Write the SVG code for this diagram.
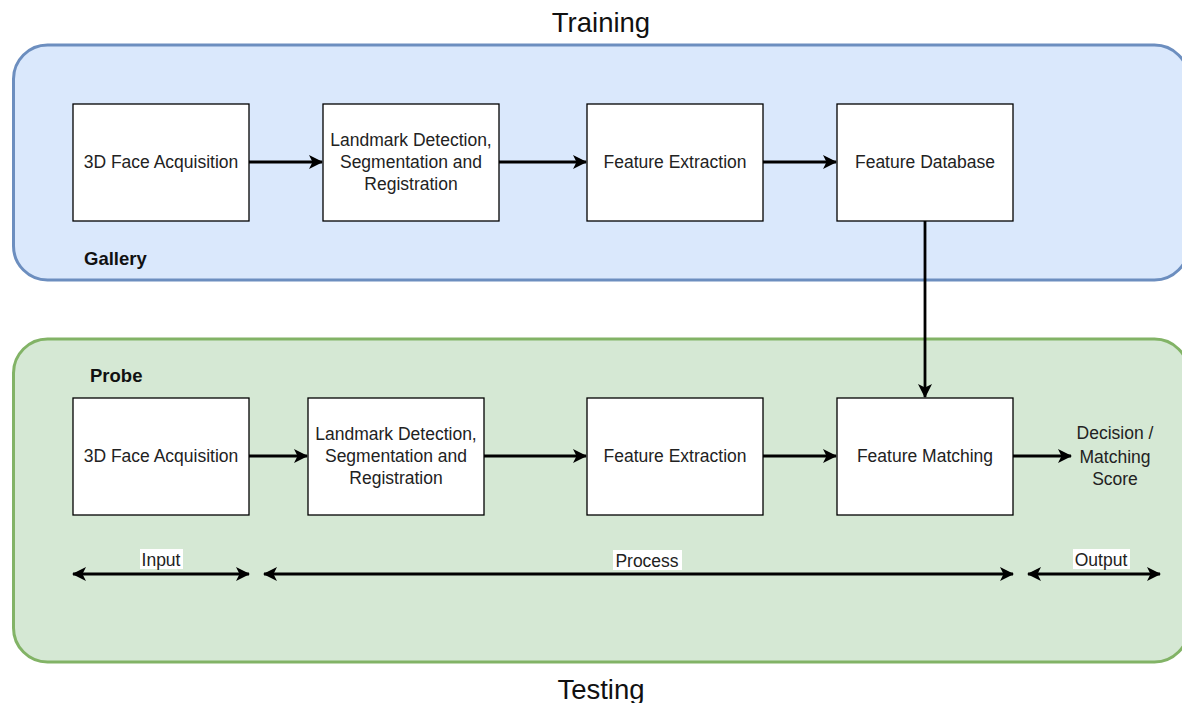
<svg xmlns="http://www.w3.org/2000/svg" width="1182" height="703" viewBox="0 0 1182 703">
  <defs>
    <marker id="arrow" viewBox="0 0 14 14" refX="13" refY="7" markerWidth="14" markerHeight="14" markerUnits="userSpaceOnUse" orient="auto-start-reverse">
      <path d="M0,0 L14,7 L0,14 L3.5,7 Z" fill="#000"/>
    </marker>
    <style>
      .box { fill: #ffffff; stroke: #000000; stroke-width: 1.3; }
      .lbl { font-family: "Liberation Sans", Arial, sans-serif; font-size: 17.5px; fill: #222; text-anchor: middle; }
      .bold { font-family: "Liberation Sans", Arial, sans-serif; font-size: 18.5px; font-weight: bold; fill: #111; }
      .title { font-family: "Liberation Sans", Arial, sans-serif; font-size: 27.5px; fill: #111; text-anchor: middle; }
      .edge { stroke: #000; stroke-width: 2.8; fill: none; }
      .tag { fill: #ffffff; }
    </style>
  </defs>
  <rect width="1182" height="703" fill="#ffffff"/>

  <!-- containers -->
  <g id="training">
    <rect x="13.5" y="45" width="1175" height="235" rx="34" fill="#dae8fc" stroke="#6c8ebf" stroke-width="3"/>
    <text class="title" x="601" y="32">Training</text>
    <text class="bold" x="84" y="265">Gallery</text>
  </g>
  <g id="testing">
    <rect x="13.5" y="339" width="1175" height="323" rx="34" fill="#d5e8d4" stroke="#82b366" stroke-width="3"/>
    <text class="title" x="601" y="699">Testing</text>
    <text class="bold" x="90" y="382">Probe</text>
  </g>

  <!-- gallery row -->
  <g id="g-acq">
    <rect class="box" x="73" y="104" width="176" height="117"/>
    <text class="lbl" x="161" y="168">3D Face Acquisition</text>
  </g>
  <g id="g-landmark">
    <rect class="box" x="323" y="104" width="176" height="117"/>
    <text class="lbl" x="411" y="146">Landmark Detection,</text>
    <text class="lbl" x="411" y="168">Segmentation and</text>
    <text class="lbl" x="411" y="190">Registration</text>
  </g>
  <g id="g-feat">
    <rect class="box" x="587" y="104" width="176" height="117"/>
    <text class="lbl" x="675" y="168">Feature Extraction</text>
  </g>
  <g id="g-db">
    <rect class="box" x="837" y="104" width="176" height="117"/>
    <text class="lbl" x="925" y="168">Feature Database</text>
  </g>

  <!-- probe row -->
  <g id="p-acq">
    <rect class="box" x="73" y="398" width="176" height="117"/>
    <text class="lbl" x="161" y="462">3D Face Acquisition</text>
  </g>
  <g id="p-landmark">
    <rect class="box" x="308" y="398" width="176" height="117"/>
    <text class="lbl" x="396" y="440">Landmark Detection,</text>
    <text class="lbl" x="396" y="462">Segmentation and</text>
    <text class="lbl" x="396" y="484">Registration</text>
  </g>
  <g id="p-feat">
    <rect class="box" x="587" y="398" width="176" height="117"/>
    <text class="lbl" x="675" y="462">Feature Extraction</text>
  </g>
  <g id="p-match">
    <rect class="box" x="837" y="398" width="176" height="117"/>
    <text class="lbl" x="925" y="462">Feature Matching</text>
  </g>
  <g id="decision">
    <text class="lbl" x="1115" y="439">Decision /</text>
    <text class="lbl" x="1115" y="463">Matching</text>
    <text class="lbl" x="1115" y="485">Score</text>
  </g>

  <!-- connectors -->
  <g id="connectors">
    <line class="edge" x1="249" y1="162" x2="322" y2="162" marker-end="url(#arrow)"/>
    <line class="edge" x1="499" y1="162" x2="586" y2="162" marker-end="url(#arrow)"/>
    <line class="edge" x1="763" y1="162" x2="836" y2="162" marker-end="url(#arrow)"/>
    <line class="edge" x1="925" y1="221" x2="925" y2="397" marker-end="url(#arrow)"/>
    <line class="edge" x1="249" y1="456" x2="307" y2="456" marker-end="url(#arrow)"/>
    <line class="edge" x1="484" y1="456" x2="586" y2="456" marker-end="url(#arrow)"/>
    <line class="edge" x1="763" y1="456" x2="836" y2="456" marker-end="url(#arrow)"/>
    <line class="edge" x1="1013" y1="456" x2="1071" y2="456" marker-end="url(#arrow)"/>

    <line class="edge" x1="73" y1="574" x2="249" y2="574" marker-start="url(#arrow)" marker-end="url(#arrow)"/>
    <line class="edge" x1="264" y1="574" x2="1013" y2="574" marker-start="url(#arrow)" marker-end="url(#arrow)"/>
    <line class="edge" x1="1028" y1="574" x2="1160" y2="574" marker-start="url(#arrow)" marker-end="url(#arrow)"/>

    <rect class="tag" x="140" y="549" width="43" height="20"/>
    <text class="lbl" x="161" y="566">Input</text>
    <rect class="tag" x="613" y="550" width="69" height="20"/>
    <text class="lbl" x="647" y="567">Process</text>
    <rect class="tag" x="1073" y="549" width="57" height="20"/>
    <text class="lbl" x="1101" y="566">Output</text>
  </g>
</svg>
